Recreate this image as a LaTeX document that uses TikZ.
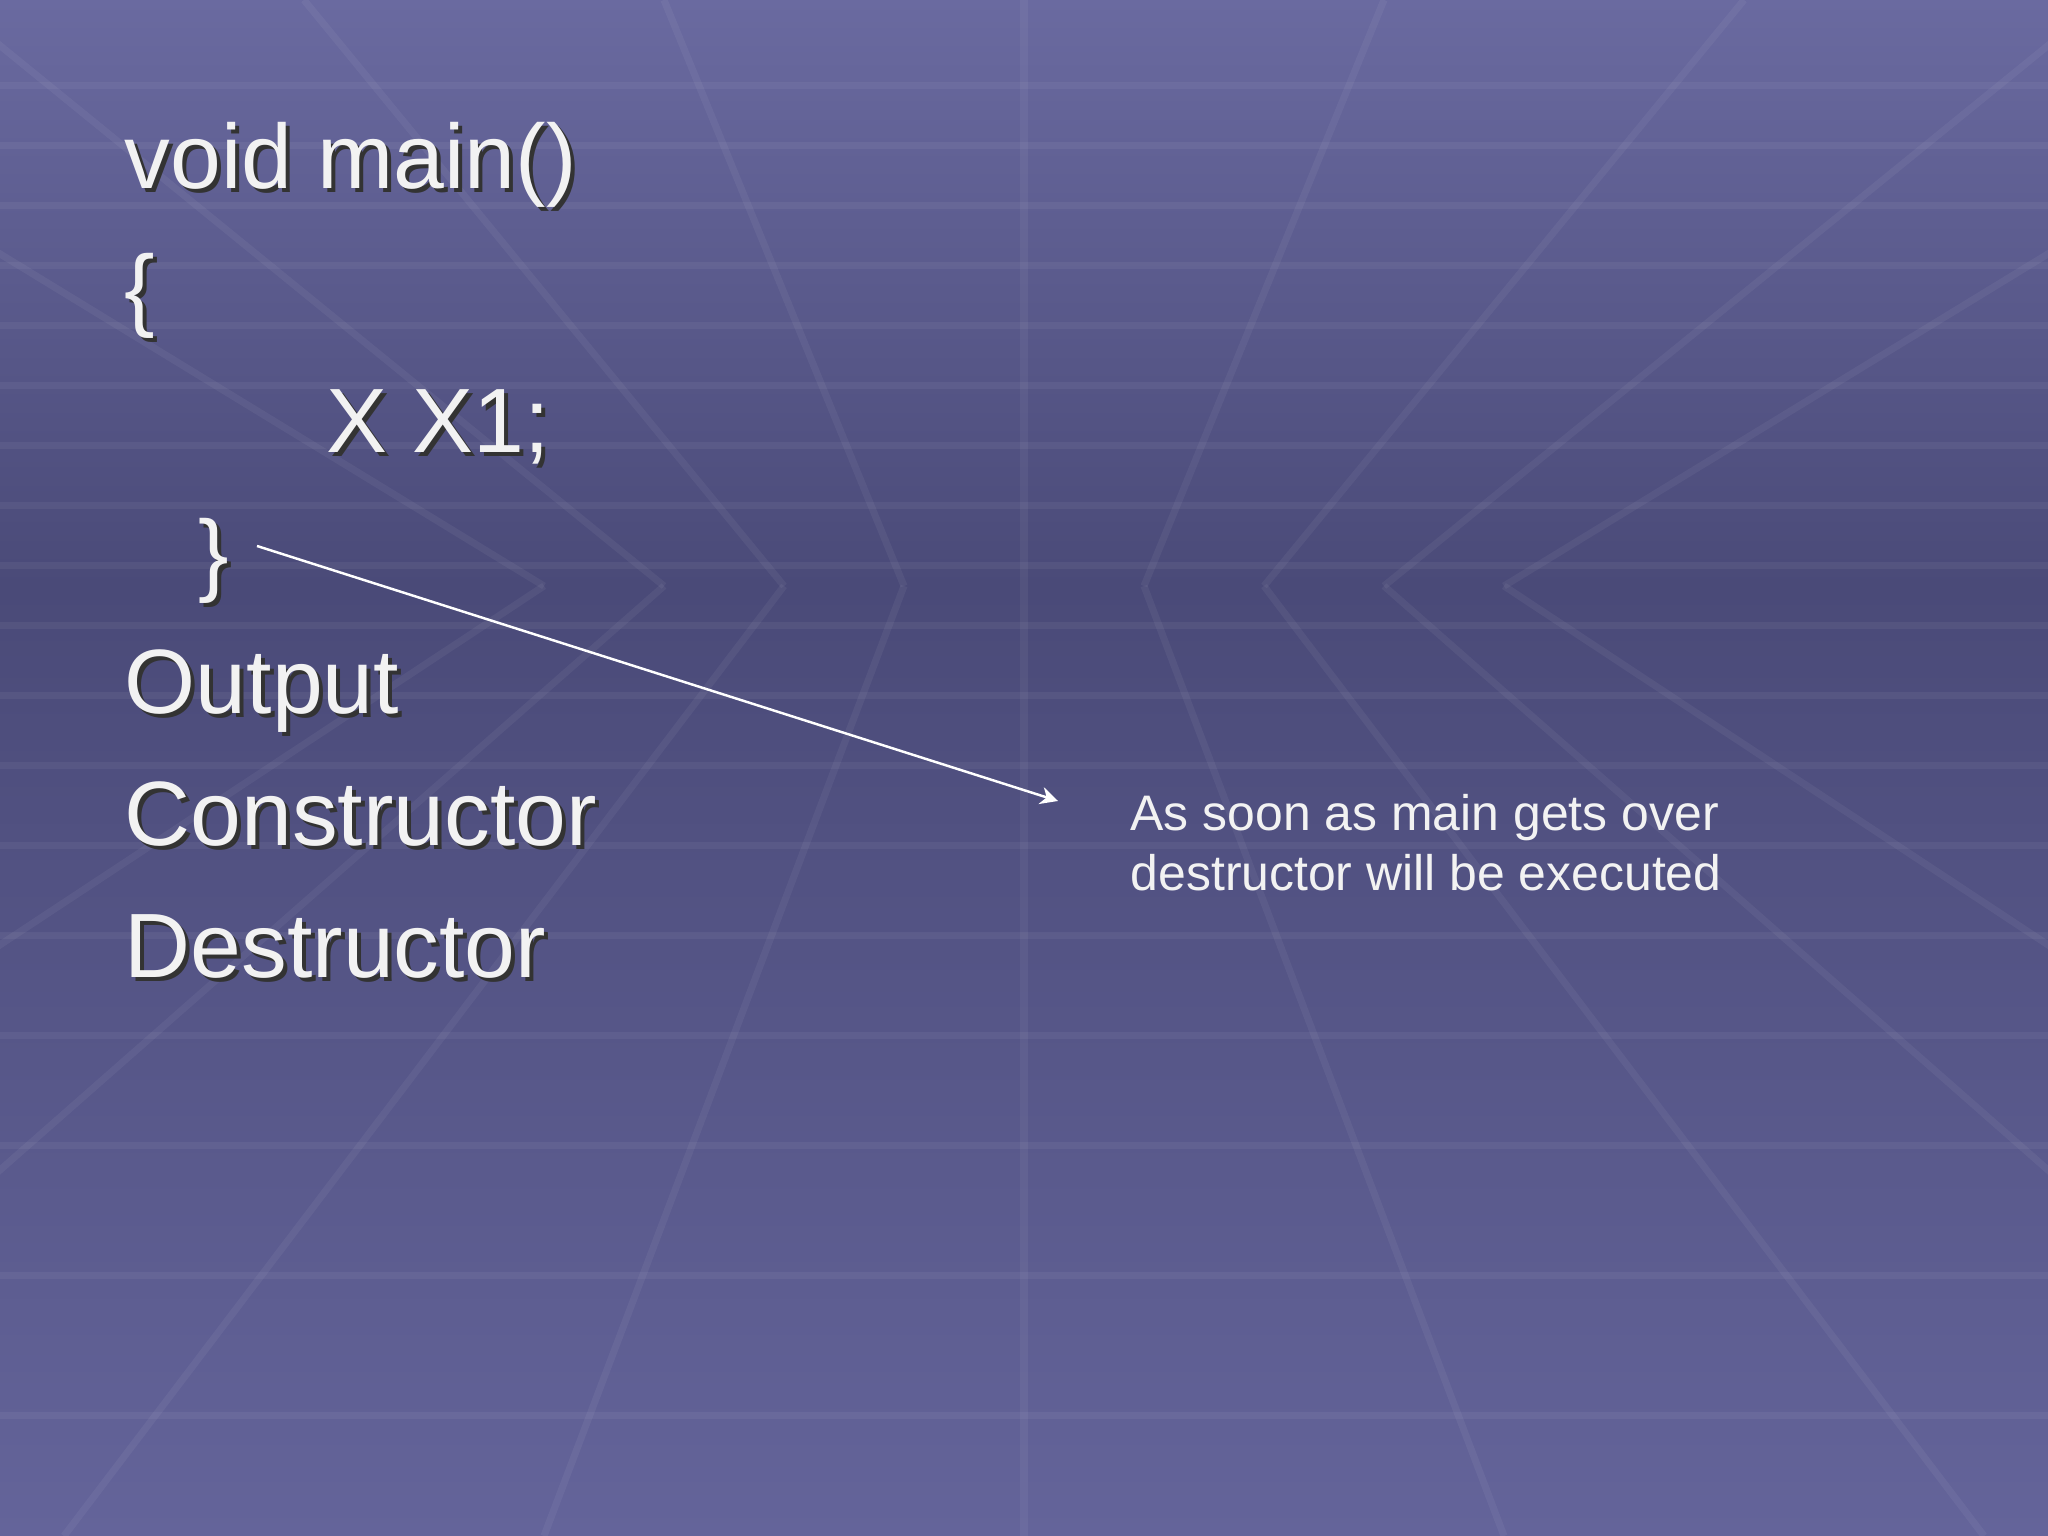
\documentclass[tikz,border=0pt]{standalone}
\usepackage{fontspec}
\usetikzlibrary{arrows.meta}
\setmainfont{Liberation Sans}
\definecolor{bgtop}{HTML}{6A6AA0}
\definecolor{bgmid}{HTML}{4A4A78}
\definecolor{bgbot}{HTML}{64649A}
\definecolor{txt}{HTML}{F2F2F2}
\tikzset{
  big/.style={anchor=base west,inner sep=0pt,font=\fontsize{26}{30}\selectfont,text=txt},
  shad/.style={anchor=base west,inner sep=0pt,font=\fontsize{26}{30}\selectfont,text=black!80},
  note/.style={anchor=base west,inner sep=0pt,font=\fontsize{14.2}{17}\selectfont,text=txt,align=left},
  grid/.style={draw=white,opacity=0.05,line width=2pt}
}
\begin{document}
\begin{tikzpicture}
\useasboundingbox (0,0) rectangle (20.48,15.36);
\shade[top color=bgtop,bottom color=bgmid] (0,15.36) rectangle (20.48,9.5);
\shade[top color=bgmid,bottom color=bgbot] (0,9.5) rectangle (20.48,0);
\begin{scope}
\clip (0,0) rectangle (20.48,15.36);
\foreach \y in {14.5,13.9,13.3,12.7,12.1,11.5,10.9,10.3,9.7,9.1,8.4,7.7,6.9,6.0,5.0,3.9,2.6,1.2}
  \draw[grid] (0,\y) -- (20.48,\y);
\foreach \x in {-24,-18,-12,-6,0,6,12,18,24}
  \draw[grid] (10.24,9.5) ++(\x*0.2,0) -- ++(\x*0.6,-9.5);
\foreach \x in {-24,-18,-12,-6,0,6,12,18,24}
  \draw[grid] (10.24,9.5) ++(\x*0.2,0) -- ++(\x*0.4,5.86);
\end{scope}
% shadows
\foreach \t/\x/\y in {void main()/1.24/13.47,{\{}/1.24/12.16,X X1;/3.26/10.83,{\}}/1.98/9.51,Output/1.24/8.22,Constructor/1.24/6.90,Destructor/1.24/5.58}
  \node[shad] at (\x+0.04,\y-0.04) {\t};
\node[big] (l1) at (1.24,13.47) {void main()};
\node[big] (l2) at (1.24,12.16) {\{};
\node[big] (l3) at (3.26,10.83) {X X1;};
\node[big] (l4) at (1.98,9.51) {\}};
\node[big] (l5) at (1.24,8.22) {Output};
\node[big] (l6) at (1.24,6.90) {Constructor};
\node[big] (l7) at (1.24,5.58) {Destructor};
\node[note] (n1) at (11.30,7.05) {As soon as main gets over};
\node[note] (n2) at (11.30,6.45) {destructor will be executed};
\coordinate (a0) at (2.57,9.90);
\coordinate (a1) at (10.58,7.35);
\draw[white,line width=0.7pt,-{Stealth[length=5pt,width=5pt]}] (a0) -- (a1);
\end{tikzpicture}
\end{document}
